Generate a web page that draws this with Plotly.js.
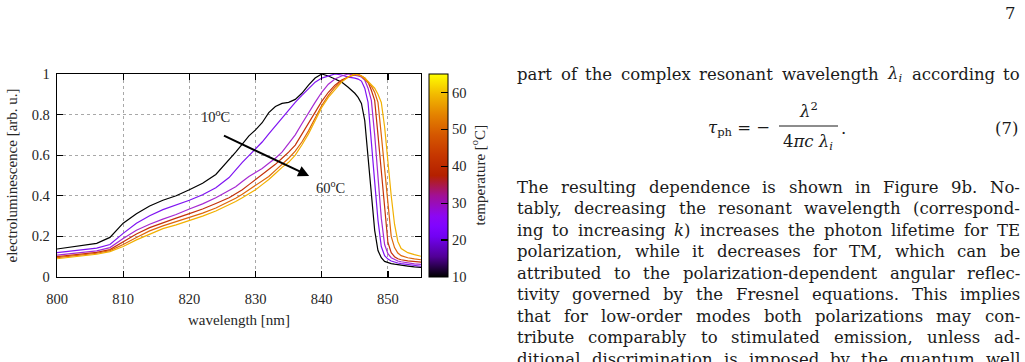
<!DOCTYPE html>
<html>
<head>
<meta charset="utf-8">
<script src="https://cdn.plot.ly/plotly-3.0.1.min.js"></script>
<style>
html,body{margin:0;padding:0;background:#fff;}
#chart{width:1025px;height:362px;}
</style>
</head>
<body>
<div id="chart"></div>
<script>
// ---------------- data ----------------
const wavelength = [800,802,804,806,808,810,812,814,816,818,820,822,824,826,
  827,828,829,830,831,832,833,834,835,836,837,838,839,840,841,842,843,844,845,
  845.5,846,846.5,847,847.5,848,848.5,849,849.5,850,850.5,851,851.5,852,
  853,854,855];

const temperatures = [10,20,30,40,50,60];

const el10 = [0.138,0.147,0.155,0.166,0.195,0.265,0.312,0.350,0.378,0.400,0.430,0.462,0.505,0.575,
  0.615,0.655,0.695,0.725,0.760,0.810,0.840,0.855,0.860,0.875,0.905,0.945,0.980,1.000,0.990,0.975,0.960,0.935,0.905,
  0.885,0.855,0.770,0.600,0.400,0.230,0.130,0.095,0.077,0.070,0.066,0.063,0.060,0.058,
  0.054,0.050,0.047];
const el20 = [0.120,0.127,0.133,0.142,0.160,0.215,0.265,0.302,0.332,0.355,0.378,0.405,0.440,0.490,
  0.530,0.565,0.598,0.630,0.665,0.705,0.745,0.780,0.820,0.860,0.895,0.930,0.960,0.980,0.990,1.000,0.995,0.985,0.980,
  0.975,0.965,0.930,0.860,0.650,0.470,0.280,0.150,0.105,0.088,0.079,0.073,0.069,0.066,
  0.061,0.057,0.053];
const el30 = [0.108,0.114,0.120,0.129,0.145,0.190,0.230,0.260,0.285,0.308,0.335,0.360,0.390,0.425,
  0.445,0.470,0.495,0.515,0.535,0.560,0.585,0.615,0.655,0.700,0.755,0.810,0.860,0.910,0.950,0.975,0.990,1.000,0.995,
  0.990,0.985,0.970,0.930,0.870,0.700,0.490,0.290,0.160,0.115,0.095,0.085,0.079,0.075,
  0.069,0.065,0.062];
const el40 = [0.100,0.106,0.113,0.121,0.135,0.175,0.212,0.243,0.268,0.290,0.312,0.335,0.362,0.390,
  0.410,0.430,0.455,0.480,0.505,0.530,0.555,0.585,0.615,0.650,0.705,0.760,0.815,0.865,0.910,0.945,0.970,0.985,1.000,
  0.995,0.990,0.980,0.960,0.920,0.870,0.700,0.510,0.330,0.170,0.120,0.100,0.090,0.085,
  0.079,0.075,0.073];
const el50 = [0.095,0.102,0.110,0.117,0.130,0.160,0.195,0.227,0.252,0.272,0.292,0.315,0.340,0.370,
  0.388,0.408,0.430,0.450,0.470,0.495,0.525,0.555,0.585,0.620,0.665,0.720,0.780,0.845,0.895,0.935,0.965,0.985,0.995,
  1.000,0.990,0.975,0.960,0.940,0.910,0.860,0.700,0.530,0.370,0.200,0.145,0.118,0.105,
  0.095,0.089,0.085];
const el60 = [0.090,0.098,0.105,0.112,0.125,0.150,0.183,0.212,0.238,0.257,0.277,0.300,0.325,0.355,
  0.372,0.390,0.410,0.430,0.455,0.480,0.510,0.540,0.565,0.600,0.650,0.705,0.770,0.835,0.885,0.925,0.960,0.985,1.000,
  0.995,0.990,0.980,0.965,0.950,0.930,0.900,0.860,0.740,0.560,0.400,0.260,0.175,0.140,
  0.120,0.110,0.102];

const series = [el10, el20, el30, el40, el50, el60];

const xTicks = [800,810,820,830,840,850];
const yTicks = [0,0.2,0.4,0.6,0.8,1];
const yTickText = ['0','0.2','0.4','0.6','0.8','1'];
const cbTicks = [10,20,30,40,50,60];

// ---------------- styles ----------------
const lineColors = ['#000000','#7f14f2','#a62ad2','#c4320a','#de660a','#f2b000'];
const palette = [
  [0.0,'rgb(0,0,0)'],[0.1,'rgb(81,0,150)'],[0.2,'rgb(114,2,243)'],[0.25,'rgb(128,4,255)'],
  [0.3,'rgb(140,7,243)'],[0.4,'rgb(161,16,150)'],[0.5,'rgb(180,32,0)'],[0.6,'rgb(198,55,0)'],
  [0.7,'rgb(213,87,0)'],[0.8,'rgb(228,131,0)'],[0.9,'rgb(242,186,0)'],[1.0,'rgb(255,255,0)']
];

const W = 1025, H = 362;
const L = 57, R = 604, T = 74, B = 85;
const pw = W - L - R, ph = H - T - B;
const px2x = p => (p - L) / pw;
const py2y = p => (H - B - p) / ph;

const serif = 'Liberation Serif, Times New Roman, serif';
const bodyFamily = 'DejaVu Serif';
const axisFont = {family: serif, size: 14.5, color: '#262626'};
const titleFont = {family: serif, size: 15, color: '#262626'};
const bodySize = 16.5;
const bodyColor = '#1a1a1a';
const bodyFont = {family: bodyFamily, size: bodySize, color: bodyColor};

// ---------------- traces ----------------
const traces = series.map((s, i) => ({
  type: 'scatter', mode: 'lines', x: wavelength, y: s,
  name: temperatures[i] + ' °C', showlegend: false, hoverinfo: 'skip',
  line: {color: lineColors[i], width: 1.2}
}));

// colour bar carrier (point lies outside the visible range)
traces.push({
  type: 'scatter', mode: 'markers', x: [870], y: [0.5], showlegend: false, hoverinfo: 'skip',
  marker: {
    color: [temperatures[0]], cmin: 10, cmax: 65, colorscale: palette, showscale: true, size: 1,
    colorbar: {
      x: px2x(429), xanchor: 'left', xpad: 0, ypad: 0, y: 0.5, yanchor: 'middle',
      len: 1, lenmode: 'fraction', thickness: 19, thicknessmode: 'pixels',
      outlinecolor: '#000', outlinewidth: 1,
      tickvals: cbTicks, ticks: 'inside', ticklen: 7, tickwidth: 1.3, tickcolor: '#000',
      tickfont: axisFont
    }
  }
});

// ---------------- annotations ----------------
const anns = [];
anns.push({x: 824, y: 0.795, xref: 'x', yref: 'y', text: '10<sup>o</sup>C', showarrow: false, font: axisFont});
anns.push({x: 841.4, y: 0.445, xref: 'x', yref: 'y', text: '60<sup>o</sup>C', showarrow: false, font: axisFont});
anns.push({x: 838.1, y: 0.498, ax: 825.0, ay: 0.70, xref: 'x', yref: 'y', axref: 'x', ayref: 'y',
  text: '', showarrow: true, arrowhead: 2, arrowsize: 1.1, arrowwidth: 2, arrowcolor: '#000', standoff: 0});
anns.push({x: px2x(489), y: 0.5, xref: 'paper', yref: 'paper', text: 'temperature [<sup>o</sup>C]',
  textangle: -90, showarrow: false, font: titleFont});

// body text, justified word by word
const ctx = document.createElement('canvas').getContext('2d');
function measure(t, size) {
  ctx.font = size + 'px "' + bodyFamily + '"';
  return ctx.measureText(t.replace(/<[^>]+>/g, '')).width;
}
function justify(line, x0, x1, yc, size) {
  const words = line.split(/\s+/);
  const w = words.map(s => measure(s, size));
  const total = w.reduce((a, b) => a + b, 0);
  const gap = words.length > 1 ? (x1 - x0 - total) / (words.length - 1) : 0;
  let x = x0;
  words.forEach((s, i) => {
    anns.push({xref: 'paper', yref: 'paper', x: px2x(x), y: py2y(yc), xanchor: 'left', yanchor: 'middle',
      text: s, showarrow: false, borderpad: 0, borderwidth: 0, font: {family: bodyFamily, size: size, color: bodyColor}});
    x += w[i] + gap;
  });
}

const textLeft = 517, textRight = 1020;
const introLine = 'part of the complex resonant wavelength <i>λ</i><sub><i>i</i></sub> according to';
const paragraph = [
  'The resulting dependence is shown in Figure 9b. No-',
  'tably, decreasing the resonant wavelength (correspond-',
  'ing to increasing <i>k</i>) increases the photon lifetime for TE',
  'polarization, while it decreases for TM, which can be',
  'attributed to the polarization-dependent angular reflec-',
  'tivity governed by the Fresnel equations. This implies',
  'that for low-order modes both polarizations may con-',
  'tribute comparably to stimulated emission, unless ad-',
  'ditional discrimination is imposed by the quantum well'
];
justify(introLine, textLeft, textRight, 74, bodySize);
paragraph.forEach((ln, i) => justify(ln, textLeft, textRight, 187 + i * 21.5, bodySize));

// equation (7)
anns.push({xref: 'paper', yref: 'paper', x: px2x(772), y: py2y(128), xanchor: 'right', yanchor: 'middle',
  text: '<i>τ</i><sub>ph</sub> = −', showarrow: false, font: bodyFont});
anns.push({xref: 'paper', yref: 'paper', x: px2x(808), y: py2y(110), xanchor: 'center', yanchor: 'middle',
  text: '<i>λ</i><sup>2</sup>', showarrow: false, font: bodyFont});
anns.push({xref: 'paper', yref: 'paper', x: px2x(808), y: py2y(142), xanchor: 'center', yanchor: 'middle',
  text: '4<i>πc λ</i><sub><i>i</i></sub>', showarrow: false, font: bodyFont});
anns.push({xref: 'paper', yref: 'paper', x: px2x(839), y: py2y(128), xanchor: 'left', yanchor: 'middle',
  text: '.', showarrow: false, font: bodyFont});
anns.push({xref: 'paper', yref: 'paper', x: px2x(1020), y: py2y(128), xanchor: 'right', yanchor: 'middle',
  text: '(7)', showarrow: false, font: bodyFont});
anns.push({xref: 'paper', yref: 'paper', x: px2x(1018), y: py2y(14), xanchor: 'right', yanchor: 'middle',
  text: '7', showarrow: false, font: bodyFont});

// ---------------- shapes ----------------
const shapes = [];
shapes.push({type: 'line', xref: 'paper', yref: 'paper', x0: px2x(779), x1: px2x(838), y0: py2y(126), y1: py2y(126),
  line: {color: bodyColor, width: 1}});
// left-side colour-bar ticks (mirror of the inside ticks)
cbTicks.slice(1).forEach(t => {
  shapes.push({type: 'line', xref: 'paper', yref: 'paper', x0: px2x(429), x1: px2x(436),
    y0: (t - 10) / 55, y1: (t - 10) / 55, line: {color: '#000', width: 1.3}});
});

// ---------------- layout ----------------
const axisCommon = {
  showline: true, linecolor: '#000', linewidth: 1.3, mirror: 'allticks',
  ticks: 'inside', ticklen: 6, tickwidth: 1.2, tickcolor: '#000',
  showgrid: true, gridcolor: '#a8a8a8', griddash: 'dot', gridwidth: 1,
  zeroline: false, tickfont: axisFont, automargin: false, fixedrange: true
};

const layout = {
  width: W, height: H,
  margin: {l: L, r: R, t: T, b: B, pad: 0},
  paper_bgcolor: '#fff', plot_bgcolor: '#fff',
  showlegend: false,
  xaxis: Object.assign({}, axisCommon, {
    range: [800, 855], tickvals: xTicks, ticklabelstandoff: 8,
    title: {text: 'wavelength [nm]', font: titleFont, standoff: 8}
  }),
  yaxis: Object.assign({}, axisCommon, {
    range: [0, 1], tickvals: yTicks, ticktext: yTickText, ticklabelstandoff: 3,
    title: {text: 'electroluminescence [arb. u.]', font: titleFont, standoff: 10}
  }),
  annotations: anns,
  shapes: shapes
};

Plotly.newPlot('chart', traces, layout, {staticPlot: true, displayModeBar: false});
</script>
</body>
</html>
